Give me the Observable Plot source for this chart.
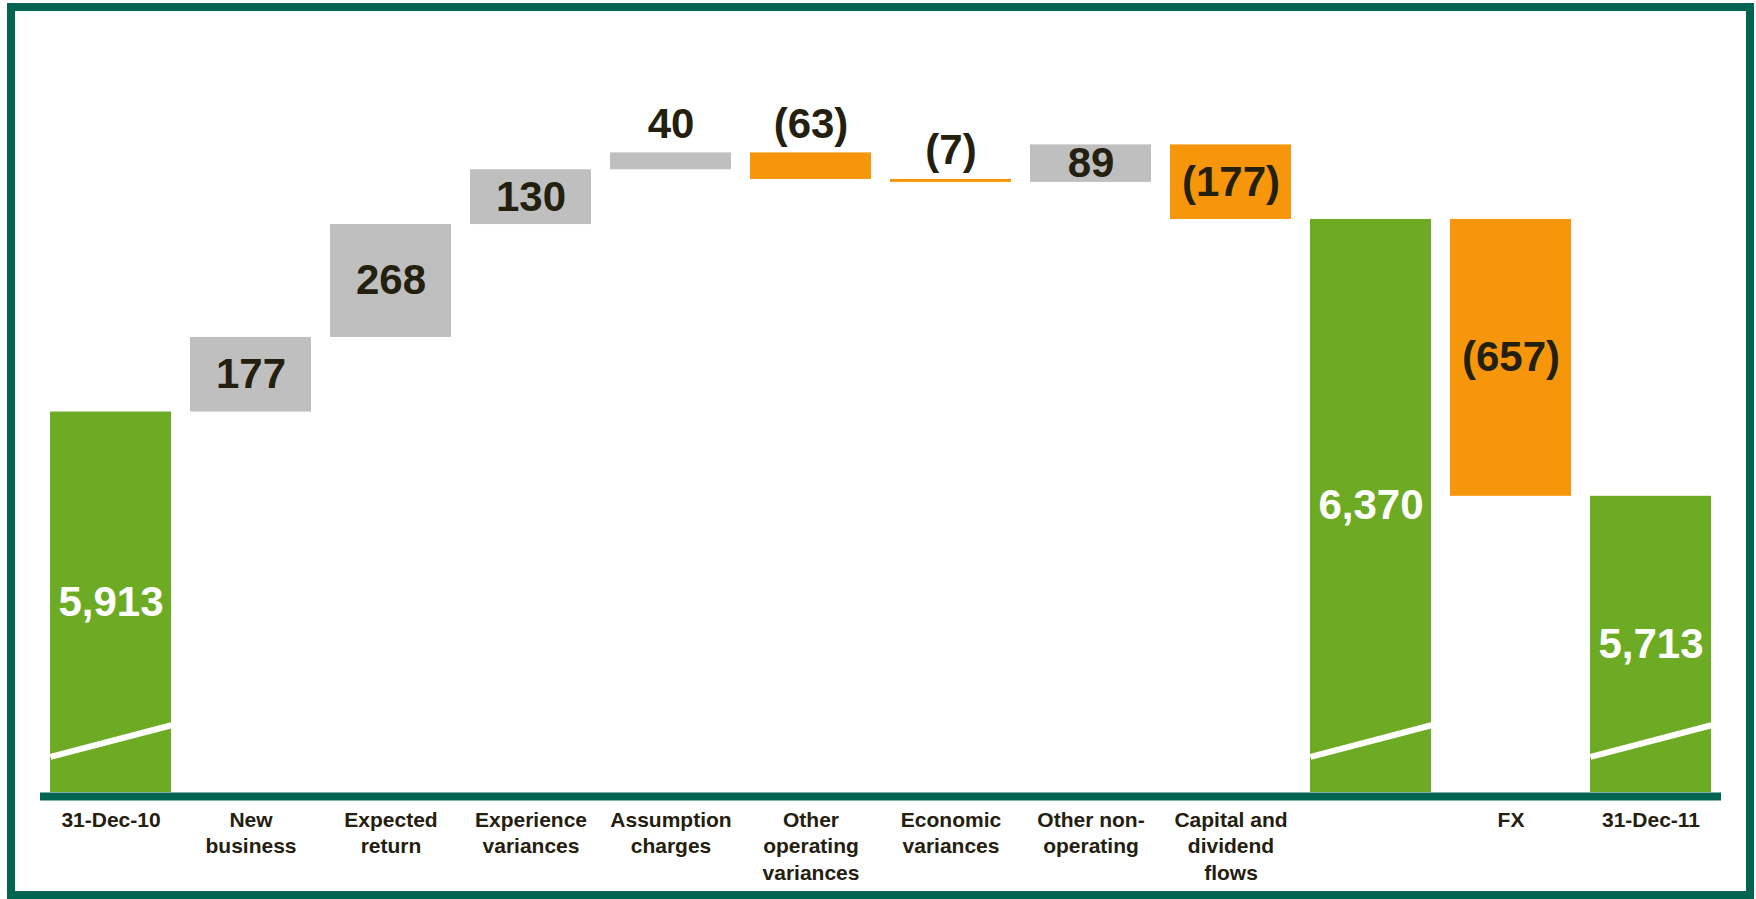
<!DOCTYPE html>
<html>
<head>
<meta charset="utf-8">
<script src="https://cdn.jsdelivr.net/npm/d3@7"></script>
<script src="https://cdn.jsdelivr.net/npm/@observablehq/plot@0.6"></script>
<style>
  html, body { margin: 0; padding: 0; background: #ffffff; }
  #wrap { position: relative; width: 1756px; height: 899px; overflow: hidden; font-family: "Liberation Sans", Arial, sans-serif; }
  #frame { position: absolute; left: 7px; top: 3px; width: 1731px; height: 880px; border: 8px solid #006450; }
  #chart { position: absolute; left: 0; top: 0; }
</style>
</head>
<body>
<div id="wrap"><div id="frame"></div><div id="chart"></div></div>
<script>
// ---- Data ----
const categories = [
  "31-Dec-10", "New\nbusiness", "Expected\nreturn", "Experience\nvariances",
  "Assumption\ncharges", "Other\noperating\nvariances", "Economic\nvariances",
  "Other non-\noperating", "Capital and\ndividend\nflows", "", "FX", "31-Dec-11"
];
const values = [5913, 177, 268, 130, 40, -63, -7, 89, -177, 6370, -657, 5713];
const kinds = ["total", "delta", "delta", "delta", "delta", "delta", "delta", "delta", "delta", "total", "delta", "total"];
const axisBase = 5010; // truncated (broken) value axis baseline

// ---- Build waterfall rows ----
let running = 0;
const rows = values.map((v, i) => {
  let y1, y2;
  if (kinds[i] === "total") { y1 = axisBase; y2 = v; running = v; }
  else { y1 = running; y2 = running + v; running = y2; }
  const color = kinds[i] === "total" ? "#6DAB24" : (v >= 0 ? "#BFBFBF" : "#F7960A");
  const text = kinds[i] === "total" ? d3.format(",")(v) : (v >= 0 ? String(v) : `(${-v})`);
  return { i, v, kind: kinds[i], y1, y2, color, text, top: Math.max(y1, y2), mid: (y1 + y2) / 2 };
});
const totals = rows.filter(d => d.kind === "total");
const insideDeltas = rows.filter(d => d.kind === "delta" && Math.abs(d.v) >= 80);
const aboveDeltas = rows.filter(d => d.kind === "delta" && Math.abs(d.v) < 80);

const textColor = "#24200F";

const chart = Plot.plot({
  width: 1756,
  height: 899,
  marginLeft: 40,
  marginRight: 35,
  marginTop: 101,
  marginBottom: 107,
  style: { fontFamily: "'Liberation Sans', Arial, sans-serif", background: "transparent", overflow: "visible" },
  x: { type: "band", domain: d3.range(categories.length), paddingInner: 0.1357, paddingOuter: 0.0714, align: 0.5, axis: null },
  y: { domain: [axisBase, 6650], axis: null },
  marks: [
    Plot.barY(rows, { x: "i", y1: "y1", y2: "y2", fill: "color" }),
    // break marks on the truncated total bars
    Plot.vector(totals, {
      x: "i", y: axisBase + 122, length: 125, rotate: 75.3, anchor: "middle",
      stroke: "#ffffff", strokeWidth: 6, strokeLinecap: "butt", r: 0
    }),
    // baseline
    Plot.ruleY([axisBase], { stroke: "#006450", strokeWidth: 8, dy: 4 }),
    // total labels (white, centred)
    Plot.text(totals, { x: "i", y: "mid", text: "text", fill: "#ffffff", fontSize: 42, fontWeight: "bold", lineAnchor: "middle" }),
    // delta labels inside bars
    Plot.text(insideDeltas, { x: "i", y: "mid", text: "text", fill: textColor, fontSize: 42, fontWeight: "bold", lineAnchor: "middle" }),
    // delta labels above small bars
    Plot.text(aboveDeltas, { x: "i", y: "top", text: "text", fill: textColor, fontSize: 42, fontWeight: "bold", lineAnchor: "bottom", dy: -15 }),
    // category labels
    Plot.axisX({
      tickSize: 0, tickPadding: 16, tickFormat: i => categories[i],
      fontSize: 21, fontWeight: "bold", fill: textColor, lineHeight: 1.25, label: null
    })
  ]
});
document.getElementById("chart").appendChild(chart);
</script>
</body>
</html>
